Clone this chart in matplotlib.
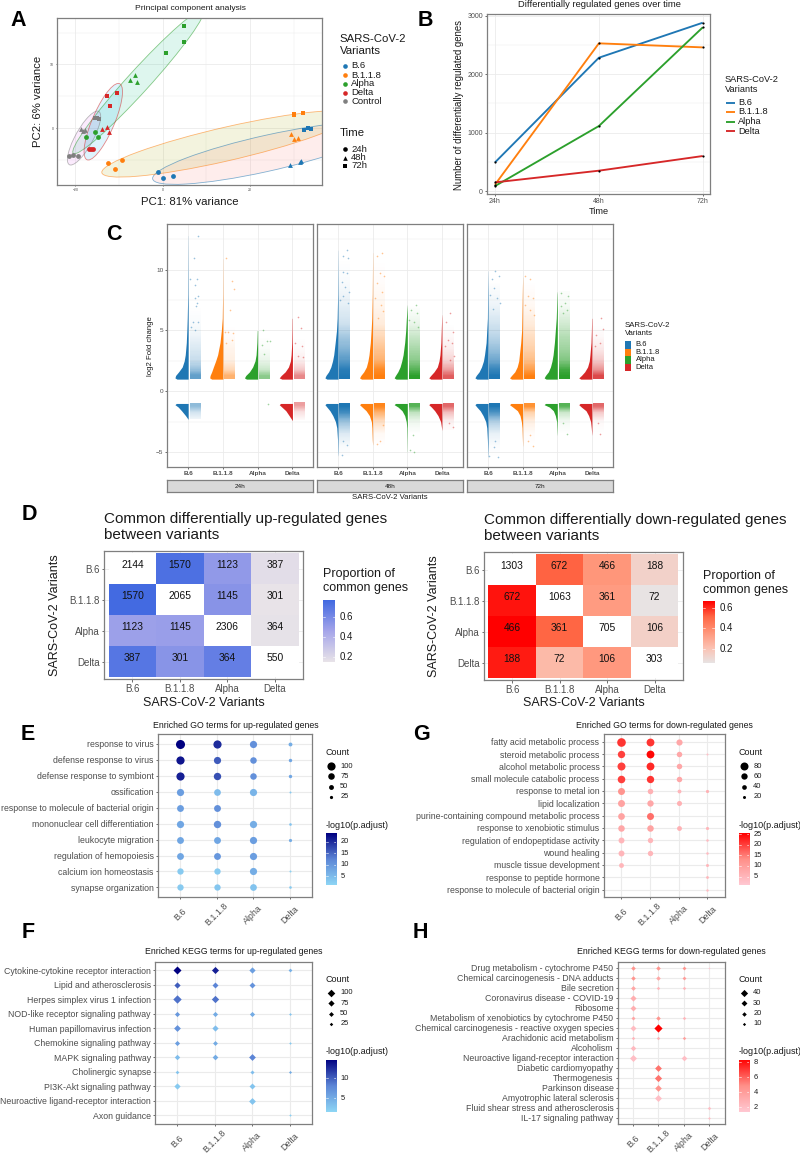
"""Multi-panel SARS-CoV-2 variant figure: PCA, DEG counts, raincloud, overlap heatmaps, enrichment dots."""
import matplotlib

matplotlib.use("Agg")

import matplotlib.pyplot as plt
import numpy as np
from matplotlib.colors import LinearSegmentedColormap, Normalize, to_rgb
from matplotlib.patches import Ellipse, Rectangle
from matplotlib.transforms import Affine2D

plt.rcParams["font.family"] = ["Liberation Sans", "DejaVu Sans"]

W, H = 800, 1154
VARIANTS = ["B.6", "B.1.1.8", "Alpha", "Delta"]
GROUPS = VARIANTS + ["Control"]
COLORS = ["#1f77b4", "#ff7f0e", "#2ca02c", "#d62728", "#7f7f7f"]
TIMES = ["24h", "48h", "72h"]
GREY = "#4d4d4d"
BORDER = "#7f7f7f"
GRID = "#ebebeb"

# A: PCA scores, per group, per time
PCA_X = {
    "B.6": [[-1.15, 0, 2.44], [29.2, 31.5, 31.8], [32.4, 33.4, 33.9]],
    "B.1.1.8": [[-12.6, -10.9, -9.2], [29.3, 30, 31.1], [30.2, 30.2, 32.1]],
    "Alpha": [[-17.6, -15.5, -14.8], [-7.5, -6.3, -5.9], [0.76, 4.8, 4.96]],
    "Delta": [[-16.9, -16.4, -16], [-14, -12.7, -12.4], [-12.8, -12.1, -10.4]],
    "Control": [[-21.5, -20.5, -19.3], [-18.6, -18.2, -17.8], [-15.6, -15, -14.5]],
}
PCA_Y = {
    "B.6": [[-6.86, -7.85, -7.54], [-5.76, -5.29, -5.18], [-0.37, -0.05, -0.16]],
    "B.1.1.8": [[-5.45, -6.44, -5.08], [-0.89, -1.73, -1.62], [2.04, 2.15, 2.3]],
    "Alpha": [[-1.47, -0.63, -1.47], [7.49, 8.27, 7.28], [11.8, 13.5, 16.1]],
    "Delta": [[-3.3, -3.3, -3.3], [-0.2, 0.1, -0.63], [5.08, 3.46, 5.5]],
    "Control": [[-4.35, -4.24, -4.35], [-0.16, -0.42, -0.37], [1.57, 1.57, 1.47]],
}
# ellipse: centre x, centre y, major vector, minor vector
PCA_ELLIPSE = {
    "B.6": (23.8, -3.98, 26.1, 3.93, 0, 2.88),
    "B.1.1.8": (14.66, -2.5, 28.6, 4.45, 0, 2.7),
    "Alpha": (-5.57, 7.28, 14.9, 11.26, 1.9, -1.15),
    "Delta": (-13.6, 1.0, 3.44, 6.02, 2.75, 0),
    "Control": (-18, -1.57, 3.05, 4.24, 2.29, 0),
}
PCA_FILL = {"B.6": "#F8766D", "B.1.1.8": "#A3A500", "Alpha": "#00BF7D",
            "Delta": "#00B0F6", "Control": "#E76BF3"}

# B: differentially regulated genes over time
DEG_COUNTS = {
    "B.6": [490, 2281, 2880],
    "B.1.1.8": [110, 2527, 2458],
    "Alpha": [85, 1112, 2800],
    "Delta": [148, 348, 599],
}

# C: half-violin widths (fraction of full width) at fixed log2FC levels
UP_LEVELS = [1.0, 1.1, 1.3, 1.6, 2.0, 2.5, 3.0, 4.0, 5.0, 6.0, 8.0]
DOWN_LEVELS = [-1.0, -1.1, -1.3, -1.6, -2.0, -2.5, -3.0, -4.0, -5.0]
UP_TOP = {
    "24h": [12.8, 10.9, 5.0, 6.0],
    "48h": [11.6, 11.4, 7.1, 6.3],
    "72h": [9.9, 9.4, 8.2, 6.0],
}
UP_WIDTH = {
    "24h": [[.85, 1, .95, .72, .45, .3, .22, .14, .10, .07, .03],
            [.85, 1, .97, .85, .72, .55, .4, .22, .12, .05, .02],
            [.85, 1, .9, .62, .38, .2, .12, .06, .03],
            [.8, 1, .85, .55, .3, .15, .1, .05, .03, .02]],
    "48h": [[.85, 1, .92, .72, .55, .42, .33, .22, .12, .07, .03],
            [.85, 1, .9, .68, .48, .36, .28, .18, .12, .07, .03],
            [.85, 1, .9, .72, .55, .42, .32, .2, .12, .07],
            [.85, 1, .85, .6, .35, .22, .15, .08, .05, .02]],
    "72h": [[.85, 1, .9, .68, .5, .35, .27, .15, .1, .05, .03],
            [.85, 1, .85, .6, .42, .3, .25, .15, .08, .06, .03],
            [.85, 1, .9, .68, .52, .4, .32, .22, .15, .08, .02],
            [.85, 1, .8, .55, .33, .2, .15, .07, .04, .02]],
}
DOWN_BOTTOM = {
    "24h": [-2.3, None, None, -2.4],
    "48h": [-5.3, -4.4, -5.0, -3.2],
    "72h": [-5.4, -4.5, -3.6, -3.6],
}
DOWN_WIDTH = {
    "24h": [[.9, 1, .75, .5, .2], None, None, [.9, 1, .8, .5, .25]],
    "48h": [[.9, 1, .85, .62, .4, .2, .1, .04, .02],
            [.9, 1, .8, .5, .25, .1, .06, .03],
            [.9, 1, .7, .4, .2, .08, .04, .02],
            [.9, 1, .8, .55, .3, .1, .03]],
    "72h": [[.9, 1, .85, .6, .38, .18, .1, .05, .02],
            [.9, 1, .75, .4, .2, .1, .05, .02],
            [.9, 1, .6, .3, .15, .05, .03],
            [.9, 1, .8, .45, .25, .1, .05]],
}
# point clouds as opacity per log2FC band (too many genes to list one by one)
CLOUD_UP_EDGES = [1, 1.5, 2, 3, 4, 5, 6, 8, 10, 12, 14]
CLOUD_DOWN_EDGES = [-1, -1.5, -2, -3, -4, -5, -6]
CLOUD_UP = {
    "24h": [[.7, .45, .25, .16, .08, .03, 0, 0, 0, 0],
            [.6, .3, .12, .08, .02, 0, 0, 0, 0, 0],
            [.55, .25, .1, .03, 0, 0, 0, 0, 0, 0],
            [.55, .25, .08, .02, 0, 0, 0, 0, 0, 0]],
    "48h": [[1, .95, .75, .55, .4, .22, .12, .03, 0, 0],
            [1, .9, .6, .45, .3, .15, .07, .02, 0, 0],
            [1, .8, .55, .4, .25, .1, 0, 0, 0, 0],
            [.75, .45, .2, .08, .03, 0, 0, 0, 0, 0]],
    "72h": [[1, .9, .65, .45, .3, .2, .08, 0, 0, 0],
            [1, .75, .5, .35, .25, .15, .05, 0, 0, 0],
            [1, .9, .6, .45, .35, .22, .05, 0, 0, 0],
            [.85, .5, .25, .1, .03, 0, 0, 0, 0, 0]],
}
CLOUD_DOWN = {
    "24h": [[.5, .2, .02, 0, 0, 0], [0, 0, 0, 0, 0, 0],
            [0, 0, 0, 0, 0, 0], [.45, .15, 0, 0, 0, 0]],
    "48h": [[1, .85, .45, .15, .03, 0], [.95, .6, .25, .04, 0, 0],
            [.8, .3, .08, 0, 0, 0], [.7, .3, .06, 0, 0, 0]],
    "72h": [[1, .8, .35, .1, .02, 0], [.85, .35, .12, .02, 0, 0],
            [.8, .25, .05, 0, 0, 0], [.7, .25, .03, 0, 0, 0]],
}
# sparse outliers of the clouds: (offset from category, log2FC)
TAILS = {
    "24h": {
        "B.6": [(.27, 12.8), (.16, 11), (.05, 9.2), (.26, 9.2), (.2, 8.7), (.19, 7.7), (.29, 7.8),
                (.26, 7.3), (.22, 7), (.14, 5.7), (.29, 5.7), (.08, 5.3), (.19, 5)],
        "B.1.1.8": [(.1, 11), (.25, 9.1), (.32, 8.4), (.2, 6.7), (.06, 4.9), (.28, 4.8),
                    (.15, 4.9), (.25, 4.2), (.1, 4)],
        "Alpha": [(.14, 5), (.26, 4.1), (.34, 4.1), (.12, 3.8), (.18, 3.1), (.29, -1.05)],
        "Delta": [(.17, 6.1), (.24, 5.2), (.08, 4), (.27, 3.7), (.17, 2.9), (.3, 2.8)],
    },
    "48h": {
        "B.6": [(.25, 11.6), (.15, 11.1), (.3, 11), (.13, 9.8), (.27, 9.7), (.1, 9), (.2, 8.6),
                (.31, 8.2), (.15, 7.8), (.06, 7.5), (.28, 7.3), (.1, -5.2), (.25, -4.4), (.15, -4.1)],
        "B.1.1.8": [(.26, 11.4), (.12, 11.1), (.21, 9.7), (.33, 9.5), (.12, 8.9), (.26, 8.2),
                    (.07, 7.7), (.23, 7.1), (.31, 6.6), (.14, 6), (.21, -4.1), (.12, -4.3), (.31, -2.8)],
        "Alpha": [(.25, 7.1), (.12, 6.7), (.29, 6.4), (.06, 5.9), (.19, 5.7), (.32, 5.3),
                  (.08, -4.8), (.19, -5), (.17, -3.6)],
        "Delta": [(.23, 6.4), (.12, 5.7), (.33, 4.9), (.18, 4.2), (.28, 4), (.09, 3.7), (.35, 2.9),
                  (.23, 2.6), (.2, -2.6), (.31, -2.9)],
    },
    "72h": {
        "B.6": [(.21, 9.9), (.31, 9.5), (.12, 9.2), (.16, 8.5), (.07, 7.9), (.26, 7.7), (.34, 7.3),
                (.14, 6.8), (.02, -5.3), (.28, -5.4), (.16, -4.6), (.21, -4.1)],
        "B.1.1.8": [(.08, 9.5), (.22, 9.2), (.14, 7.8), (.3, 7.7), (.08, 7.1), (.22, 6.7), (.32, 6.3),
                    (.3, -4.5), (.14, -4.1), (.22, -3.6)],
        "Alpha": [(.1, 8.1), (.3, 7.8), (.22, 7.3), (.12, 7), (.27, 6.7), (.17, 6.4), (.27, -3.5),
                  (.17, -2.6)],
        "Delta": [(.26, 6), (.33, 5.1), (.13, 4.6), (.23, 4), (.09, 3.7), (.23, -3.5), (.18, -2.6)],
    },
}

# D: overlap counts and proportions
UP_COUNTS = [[2144, 1570, 1123, 387], [1570, 2065, 1145, 301],
             [1123, 1145, 2306, 364], [387, 301, 364, 550]]
UP_PROP = [[np.nan, .73, .52, .18], [.76, np.nan, .55, .146],
           [.487, .497, np.nan, .158], [.70, .547, .66, np.nan]]
DOWN_COUNTS = [[1303, 672, 466, 188], [672, 1063, 361, 72],
               [466, 361, 705, 106], [188, 72, 106, 303]]
DOWN_PROP = [[np.nan, .516, .358, .144], [.632, np.nan, .34, .068],
             [.66, .512, np.nan, .15], [.62, .238, .35, np.nan]]

# E-H: enrichment terms, (count, -log10 p.adjust) per variant, None when not significant
GO_UP_TERMS = ["response to virus", "defense response to virus", "defense response to symbiont",
               "ossification", "response to molecule of bacterial origin",
               "mononuclear cell differentiation", "leukocyte migration",
               "regulation of hemopoiesis", "calcium ion homeostasis", "synapse organization"]
GO_UP = [[(110, 24), (100, 20), (85, 11), (35, 7)],
         [(100, 22), (85, 16), (75, 11), (28, 8)],
         [(100, 21), (88, 17), (75, 11), (28, 8)],
         [(85, 9), (78, 5), (85, 6), (10, 3)],
         [(80, 9), (80, 11), None, None],
         [(85, 8), (88, 11), (85, 7), (18, 4)],
         [(80, 8), (80, 8), (85, 9), (25, 7)],
         [(80, 8), (80, 10), (85, 9), None],
         [(72, 3), (72, 3), (85, 7), (10, 2)],
         [(72, 3), (72, 3.5), (78, 4), (18, 3)]]
GO_DOWN_TERMS = ["fatty acid metabolic process", "steroid metabolic process",
                 "alcohol metabolic process", "small molecule catabolic process",
                 "response to metal ion", "lipid localization",
                 "purine-containing compound metabolic process", "response to xenobiotic stimulus",
                 "regulation of endopeptidase activity", "wound healing",
                 "muscle tissue development", "response to peptide hormone",
                 "response to molecule of bacterial origin"]
GO_DOWN = [[(85, 21), (78, 21), (58, 8), None],
           [(72, 20), (78, 25), (50, 8), (12, 3)],
           [(80, 20), (78, 22), (50, 8), None],
           [(75, 20), (72, 21), (50, 8), None],
           [(68, 12), (50, 6), (30, 5), (22, 6)],
           [(68, 9), (60, 8), (45, 6), None],
           [(65, 9), (68, 16), None, None],
           [(62, 8), (62, 9), (42, 6), (22, 5)],
           [(55, 5), (48, 5), None, (16, 4)],
           [(55, 5), (48, 5), None, (16, 4)],
           [(42, 5), None, None, (20, 5)],
           [None, None, None, (18, 5)],
           [None, None, None, (15, 4)]]
KEGG_UP_TERMS = ["Cytokine-cytokine receptor interaction", "Lipid and atherosclerosis",
                 "Herpes simplex virus 1 infection", "NOD-like receptor signaling pathway",
                 "Human papillomavirus infection", "Chemokine signaling pathway",
                 "MAPK signaling pathway", "Cholinergic synapse", "PI3K-Akt signaling pathway",
                 "Neuroactive ligand-receptor interaction", "Axon guidance"]
KEGG_UP = [[(105, 14.5), (90, 13), (75, 6), (30, 4.5)],
           [(75, 10), (70, 8), (70, 7), None],
           [(110, 9), (95, 9), None, None],
           [(55, 6.5), (55, 5), (55, 5), (15, 3)],
           [(85, 7), (75, 3.5), None, None],
           [(55, 6), (50, 5), None, (12, 2.5)],
           [(60, 3.5), (65, 5), (85, 8), None],
           [(28, 3), None, (35, 3.5), (18, 5)],
           [(75, 2.5), None, (70, 3), None],
           [None, None, (85, 3), None],
           [None, None, None, (10, 2)]]
KEGG_DOWN_TERMS = ["Drug metabolism - cytochrome P450", "Chemical carcinogenesis - DNA adducts",
                   "Bile secretion", "Coronavirus disease - COVID-19", "Ribosome",
                   "Metabolism of xenobiotics by cytochrome P450",
                   "Chemical carcinogenesis - reactive oxygen species",
                   "Arachidonic acid metabolism", "Alcoholism",
                   "Neuroactive ligand-receptor interaction", "Diabetic cardiomyopathy",
                   "Thermogenesis", "Parkinson disease", "Amyotrophic lateral sclerosis",
                   "Fluid shear stress and atherosclerosis", "IL-17 signaling pathway"]
KEGG_DOWN = [[(20, 4.5), (20, 4.5), (15, 4.5), (5, 1.5)],
             [(20, 4.5), (20, 3.5), (15, 4), None],
             [(22, 3.5), (12, 2.5), (12, 2.5), None],
             [(32, 3), None, None, None],
             [(30, 3), None, None, None],
             [(16, 3.5), (20, 4.5), (12, 2.5), None],
             [(30, 2.2), (45, 8.3), None, None],
             [(12, 2.5), (12, 2.8), (12, 3.8), None],
             [(27, 2.3), None, None, None],
             [(38, 2), None, (28, 2), None],
             [None, (37, 5.5), None, None],
             [None, (40, 5.5), None, None],
             [None, (36, 4.5), None, None],
             [None, (38, 2), None, None],
             [None, None, None, (12, 2)],
             [None, None, None, (8, 2)]]

fig = plt.figure(figsize=(W / 100, H / 100), dpi=100)


def px_axes(x0, y0, x1, y1):
    """Axes from pixel edges, y counted from the top of the figure."""
    return fig.add_axes([x0 / W, 1 - y1 / H, (x1 - x0) / W, (y1 - y0) / H])


def ftext(x, y, s, size, **kw):
    kw.setdefault("va", "center")
    kw.setdefault("color", "#1a1a1a")
    return fig.text(x / W, 1 - y / H, s, fontsize=size, **kw)


def theme(ax, tick_size=6, length=1.5, grid_lw=0.6):
    ax.set_axisbelow(True)
    ax.grid(True, which="major", color=GRID, linewidth=grid_lw)
    ax.grid(True, which="minor", color=GRID, linewidth=0.35)
    for sp in ax.spines.values():
        sp.set_color(BORDER)
        sp.set_linewidth(0.9)
    ax.tick_params(which="major", labelsize=tick_size, labelcolor=GREY, color="#333333",
                   length=length, width=0.5, pad=1.5)
    ax.tick_params(which="minor", length=0)


def colorbar(x0, y0, x1, y1, cmap, vmin, vmax, ticks, size=6.3):
    ax = px_axes(x0, y0, x1, y1)
    grad = np.linspace(1, 0, 128)[:, None]
    ax.imshow(grad, cmap=cmap, aspect="auto", extent=(0, 1, vmin, vmax), vmin=0, vmax=1)
    ax.set_xlim(0, 1)
    ax.set_ylim(vmin, vmax)
    ax.axis("off")
    for t in ticks:
        ax.plot([0, 0.2], [t, t], color="white", lw=0.4)
        ax.plot([0.8, 1], [t, t], color="white", lw=0.4)
        yp = y0 + (vmax - t) / (vmax - vmin) * (y1 - y0)
        ftext(x1 + 4.5, yp, f"{t:g}", size)


# panel letters
for letter, lx, ly in [("A", 18, 21), ("B", 425, 21), ("C", 114, 234), ("D", 29, 515),
                       ("E", 28, 735), ("F", 28, 932), ("G", 421, 735), ("H", 420, 932)]:
    ftext(lx, ly, letter, 15.5, ha="center", fontweight="bold", color="black")

# ---- A: PCA
ax = px_axes(57, 18, 322, 185)
theme(ax, tick_size=2.5, length=0.8)
ax.set_xlim(-24.2, 36.5)
ax.set_ylim(-8.95, 17.3)
ax.set_xticks([-20, 0, 20])
ax.set_yticks([0, 10])
ax.set_xticks([-10, 10, 30], minor=True)
ax.set_yticks([-5, 5, 15], minor=True)
for g, c in zip(GROUPS, COLORS):
    cx, cy, ax1, ay1, bx1, by1 = PCA_ELLIPSE[g]
    tr = Affine2D.from_values(ax1, ay1, bx1, by1, cx, cy) + ax.transData
    ax.add_patch(Ellipse((0, 0), 2, 2, transform=tr, facecolor=PCA_FILL[g], alpha=0.13,
                         edgecolor="none", zorder=1))
    ax.add_patch(Ellipse((0, 0), 2, 2, transform=tr, facecolor="none", edgecolor=c,
                         alpha=0.55, linewidth=0.6, zorder=1.5))
for g, c in zip(GROUPS, COLORS):
    for i, m in enumerate(["o", "^", "s"]):
        ax.scatter(PCA_X[g][i], PCA_Y[g][i], s=12, marker=m, color=c, linewidths=0, zorder=3)
ftext(190, 8, "Principal component analysis", 6.1, ha="center")
ftext(190, 202, "PC1: 81% variance", 8.2, ha="center")
ftext(38, 101, "PC2: 6% variance", 8.2, ha="center", rotation=90)
ftext(339.5, 39, "SARS-CoV-2", 8.2)
ftext(339.5, 51, "Variants", 8.2)
leg_ax = px_axes(0, 0, W, H)
leg_ax.set_xlim(0, W)
leg_ax.set_ylim(H, 0)
leg_ax.axis("off")
leg_ax.patch.set_alpha(0)
for g, c, yp in zip(GROUPS, COLORS, [66, 75, 84, 92.5, 101]):
    leg_ax.scatter([344.5], [yp], s=11, color=c, linewidths=0)
    ftext(351, yp, g, 6.8)
ftext(339.5, 133.5, "Time", 8.2)
for t, m, yp in zip(TIMES, ["o", "^", "s"], [149, 157.5, 166]):
    leg_ax.scatter([344.5], [yp], s=11, marker=m, color="black", linewidths=0)
    ftext(351, yp, t, 6.8)

# ---- B: DEG lines
ax = px_axes(486.7, 14.3, 710, 194.3)
theme(ax, tick_size=5, length=1.2)
ax.set_xlim(0.92, 3.07)
ax.set_ylim(-56, 3024)
ax.set_xticks([1, 2, 3], TIMES)
ax.set_yticks([0, 1000, 2000, 3000])
ax.set_yticks([500, 1500, 2500], minor=True)
for g, c in zip(VARIANTS, COLORS):
    ax.plot([1, 2, 3], DEG_COUNTS[g], color=c, lw=1.35, solid_capstyle="butt", zorder=2)
    ax.scatter([1, 2, 3], DEG_COUNTS[g], s=2.5, color="black", linewidths=0, zorder=3)
ftext(599, 4.5, "Differentially regulated genes over time", 6.75, ha="center")
ftext(599, 212, "Time", 6.7, ha="center")
ftext(459.5, 105, "Number of differentially regulated genes", 6.9, ha="center", rotation=90)
ftext(725, 79, "SARS-CoV-2", 6.7)
ftext(725, 89, "Variants", 6.7)
for g, c, yp in zip(VARIANTS, COLORS, [102.5, 112, 121.5, 131]):
    leg_ax.plot([726, 735], [yp, yp], color=c, lw=1.35, solid_capstyle="butt")
    ftext(738, yp, g, 6.7)


# ---- C: half violins and clouds
def cloud(ax, xc, edges, ops, color, limit):
    """Fade the cloud strip between the density bands, cut at the group's extreme."""
    mids = 0.5 * (np.array(edges[:-1]) + np.array(edges[1:]))
    lo, hi = (edges[0], limit) if limit > 0 else (limit, edges[0])
    ys = np.linspace(hi, lo, 120)
    order = np.argsort(mids)
    alpha = np.interp(ys, mids[order], np.array(ops)[order])
    rgba = np.zeros((120, 1, 4))
    rgba[:, 0, :3] = to_rgb(color)
    rgba[:, 0, 3] = alpha
    ax.imshow(rgba, extent=(xc + 0.04, xc + 0.34, lo, hi), aspect="auto", zorder=3,
              interpolation="nearest")


FACETS = [(167.3, 313.3), (317.3, 462.7), (467.3, 612.7)]
HALF_W = 0.38
for (x0, x1), t in zip(FACETS, TIMES):
    ax = px_axes(x0, 224.3, x1, 467.3)
    theme(ax, tick_size=4.6, length=1.2)
    for i, (g, c) in enumerate(zip(VARIANTS, COLORS)):
        xc = i + 1
        # upper half violin, tapering into its maximum
        top = UP_TOP[t][i]
        w = UP_WIDTH[t][i]
        ys = UP_LEVELS[:len(w)] + [top]
        ws = list(w) + [0.006]
        ax.fill_betweenx(ys, xc - np.array(ws) * HALF_W, xc, color=c, linewidth=0, zorder=3)
        cloud(ax, xc, CLOUD_UP_EDGES, CLOUD_UP[t][i], c, top)
        # lower half violin
        bottom = DOWN_BOTTOM[t][i]
        if bottom is not None:
            w = DOWN_WIDTH[t][i]
            ys = DOWN_LEVELS[:len(w)] + [bottom]
            ws = list(w) + [0.006]
            ax.fill_betweenx(ys, xc - np.array(ws) * HALF_W, xc, color=c, linewidth=0, zorder=3)
            cloud(ax, xc, CLOUD_DOWN_EDGES, CLOUD_DOWN[t][i], c, bottom)
        dx, dy = zip(*TAILS[t][g])
        ax.scatter(xc + np.array(dx), dy, s=1.4, color=c, alpha=0.45, linewidths=0, zorder=3)
    ax.set_xlim(0.4, 4.6)
    ax.set_ylim(-6.25, 13.73)
    ax.set_xticks([1, 2, 3, 4], VARIANTS, fontweight="bold")
    ax.set_yticks([-5, 0, 5, 10])
    ax.set_yticks([-2.5, 2.5, 7.5, 12.5], minor=True)
    if t != "24h":
        ax.tick_params(axis="y", which="both", left=False, labelleft=False)
    # strip under the facet
    strip = px_axes(x0, 480, x1, 491.7)
    strip.set_facecolor("#d9d9d9")
    strip.set_xticks([])
    strip.set_yticks([])
    for sp in strip.spines.values():
        sp.set_color(BORDER)
        sp.set_linewidth(0.9)
    strip.text(0.5, 0.46, t, transform=strip.transAxes, ha="center", va="center",
               fontsize=4.6, color="#1a1a1a")
ftext(390, 497.5, "SARS-CoV-2 Variants", 5.6, ha="center")
ftext(150.5, 346, "log2 Fold change", 5.6, ha="center", rotation=90)
ftext(624.7, 325, "SARS-CoV-2", 5.6)
ftext(624.7, 333.5, "Variants", 5.6)
for g, c, yp in zip(VARIANTS, COLORS, [341, 348.5, 356, 363.5]):
    leg_ax.add_patch(Rectangle((624.7, yp), 6.5, 7.5, facecolor=c, linewidth=0))
    ftext(635.5, yp + 3.7, g, 5.5)

# ---- D: overlap heatmaps
UP_CMAP = LinearSegmentedColormap.from_list("up", ["#e8e3e8", "#a5a5ea", "#4169e1"])
DOWN_CMAP = LinearSegmentedColormap.from_list(
    "down", ["#e8e3e3", "#fcc0b0", "#ff9478", "#ff6644", "#ff0000"])


def heatmap(box, counts, props, cmap, vmin, vmax, title_x, title_lines, title_y, ylab_x,
            cbar_box, cbar_ticks, legend_y):
    ax = px_axes(*box)
    theme(ax, tick_size=7, length=1.8)
    ax.set_xlim(0.41, 4.6)
    ax.set_ylim(4.57, 0.42)
    ax.set_xticks([1, 2, 3, 4], VARIANTS)
    ax.set_yticks([1, 2, 3, 4], VARIANTS)
    norm = Normalize(vmin, vmax)
    for r in range(4):
        for col in range(4):
            p = props[r][col]
            fc = "white" if np.isnan(p) else cmap(norm(p))
            ax.add_patch(Rectangle((col + 0.5, r + 0.5), 1, 1, facecolor=fc, linewidth=0, zorder=2))
            ax.text(col + 1, r + 0.88, str(counts[r][col]), ha="center", va="center", fontsize=7.4,
                    color="#111111", zorder=3)
    for i, line in enumerate(title_lines):
        ftext(title_x, title_y + i * 16, line, 10.95)
    ftext((box[0] + box[2]) / 2, 703, "SARS-CoV-2 Variants", 9, ha="center")
    ftext(ylab_x, (box[1] + box[3]) / 2, "SARS-CoV-2 Variants", 9, ha="center", rotation=90)
    ftext(cbar_box[0], legend_y, "Proportion of", 9)
    ftext(cbar_box[0], legend_y + 14, "common genes", 9)
    colorbar(*cbar_box, cmap, vmin, vmax, cbar_ticks, size=7)


heatmap((104.3, 550.7, 303.3, 679.3), UP_COUNTS, UP_PROP, UP_CMAP, 0.15, 0.767, 104.3,
        ["Common differentially up-regulated genes", "between variants"], 519, 55,
        (323, 600, 335, 661.7), [0.2, 0.4, 0.6], 574)
heatmap((484, 551.7, 683, 680.3), DOWN_COUNTS, DOWN_PROP, DOWN_CMAP, 0.068, 0.66, 483.7,
        ["Common differentially down-regulated genes", "between variants"], 520, 434,
        (702.7, 601.3, 714.7, 662.7), [0.2, 0.4, 0.6], 576)

# ---- E-H: enrichment dots
GO_UP_CMAP = LinearSegmentedColormap.from_list("blue", ["#8ed6f5", "#5c85d6", "#000080"])
GO_DOWN_CMAP = LinearSegmentedColormap.from_list("red", ["#ffc8d2", "#ff8f88", "#ff0000"])


def marker_area(d_px, marker):
    d_pt = d_px * 0.72
    return (d_pt / 1.414) ** 2 if marker == "D" else d_pt ** 2


def dotplot(box, terms, rows, title, title_x, title_y, cmap, vmin, vmax, cticks, marker,
            size_counts, size_px, legend_x, legend_y, cbar_y, legend_counts):
    ax = px_axes(*box)
    theme(ax, tick_size=6.3, length=1.6, grid_lw=0.8)
    ax.set_xlim(0.4, 4.6)
    ax.set_ylim(len(terms) + 0.6, 0.4)
    ax.set_xticks([1, 2, 3, 4], VARIANTS)
    ax.set_yticks(range(1, len(terms) + 1), terms)
    ax.tick_params(axis="x", labelsize=6.4, pad=11)
    plt.setp(ax.get_xticklabels(), rotation=45, ha="center", va="center")
    norm = Normalize(vmin, vmax)
    for r, row in enumerate(rows):
        for col, cell in enumerate(row):
            if cell is None:
                continue
            d = np.interp(cell[0], size_counts, size_px)
            ax.scatter([col + 1], [r + 1], s=marker_area(d, marker), marker=marker,
                       color=cmap(norm(cell[1])), linewidths=0, zorder=3, clip_on=False)
    ftext(title_x, title_y, title, 6.35, ha="center")
    ftext(legend_x, legend_y, "Count", 6.5)
    for i, c in enumerate(legend_counts):
        yp = legend_y + 13.7 + i * 10.3
        d = np.interp(c, size_counts, size_px)
        leg_ax.scatter([legend_x + 5.4], [yp], s=marker_area(d, marker), marker=marker,
                       color="black", linewidths=0)
        ftext(legend_x + 14.5, yp, str(c), 5.4)
    ftext(legend_x, legend_y + 72.7, "-log10(p.adjust)", 6.5)
    colorbar(legend_x, cbar_y, legend_x + 10.5, cbar_y + 52, cmap, vmin, vmax, cticks, size=5.4)


dotplot((158, 734.3, 312, 897), GO_UP_TERMS, GO_UP, "Enriched GO terms for up-regulated genes",
        235.5, 725, GO_UP_CMAP, 1.3, 23.7, [5, 10, 15, 20], "o", [10, 25, 100, 112],
        [2.0, 3.2, 8.2, 9.2], 325.7, 752.3, 833, [100, 75, 50, 25])
dotplot((603.7, 734.3, 724.7, 897), GO_DOWN_TERMS, GO_DOWN,
        "Enriched GO terms for down-regulated genes", 664, 725, GO_DOWN_CMAP, 1, 25.5,
        [5, 10, 15, 20, 25], "o", [12, 20, 80, 88], [2.0, 3.0, 8.0, 9.0], 738.7, 752.3, 833,
        [80, 60, 40, 20])
dotplot((155, 961.7, 312, 1124), KEGG_UP_TERMS, KEGG_UP,
        "Enriched KEGG terms for up-regulated genes", 233.3, 952, GO_UP_CMAP, 1.5, 14.6,
        [5, 10], "D", [10, 25, 100, 110], [2.4, 3.5, 7.6, 8.4], 325.7, 979.3, 1060,
        [100, 75, 50, 25])
dotplot((617.7, 961.7, 724.7, 1124), KEGG_DOWN_TERMS, KEGG_DOWN,
        "Enriched KEGG terms for down-regulated genes", 671.3, 952, GO_DOWN_CMAP, 1.4, 8.3,
        [2, 4, 6, 8], "D", [5, 10, 40, 45], [2.0, 3.2, 7.2, 8.2], 738.7, 979.3, 1060,
        [40, 30, 20, 10])

fig.savefig("out.png", dpi=100)
